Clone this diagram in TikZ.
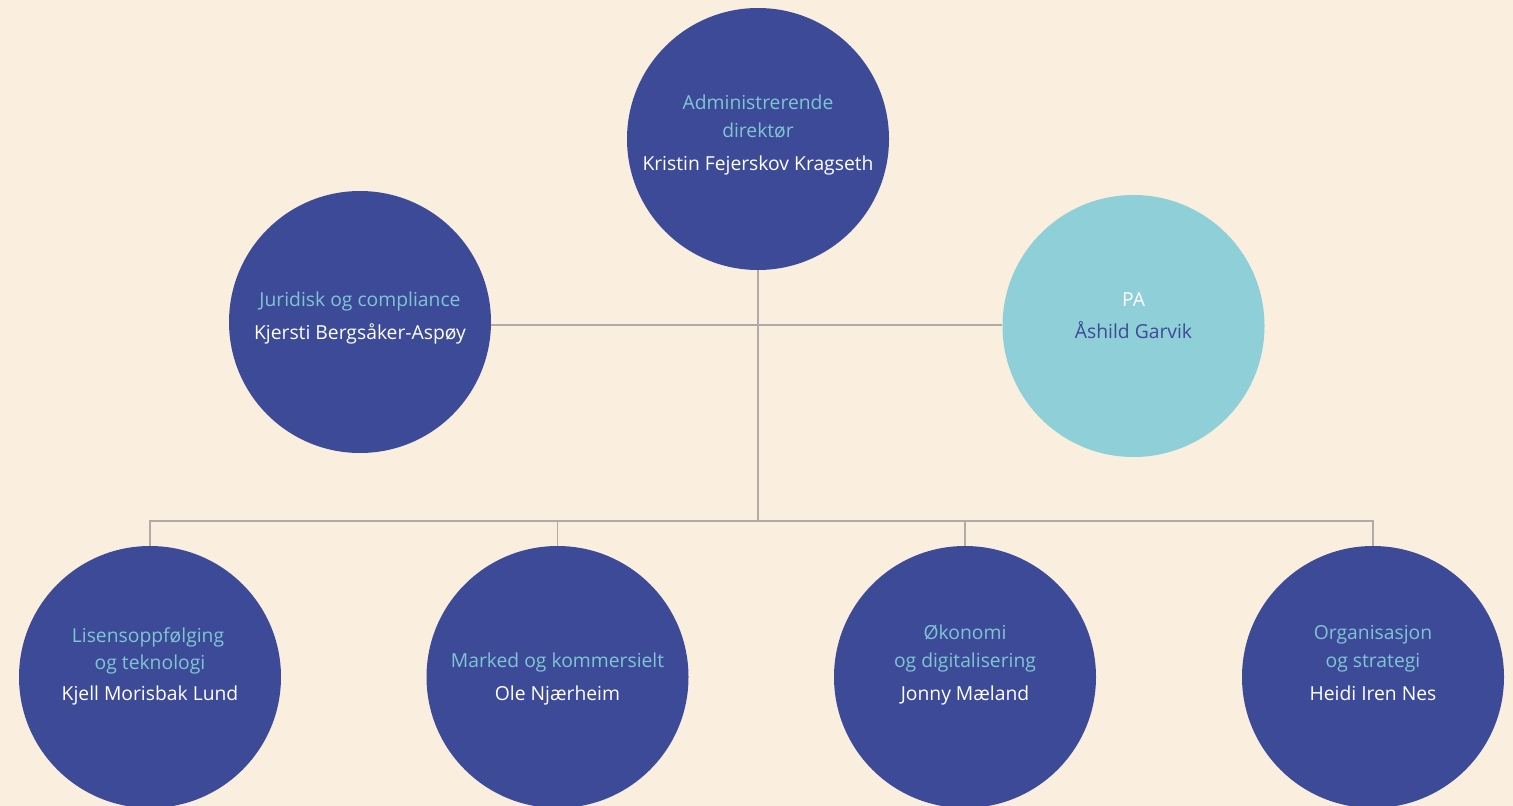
\documentclass[tikz,border=0pt]{standalone}
\usepackage{fontspec}
\setmainfont{Open Sans}
\definecolor{bg}{RGB}{250,238,223}
\definecolor{navy}{RGB}{61,74,152}
\definecolor{aqua}{RGB}{142,207,216}
\definecolor{role}{RGB}{127,198,210}
\definecolor{linegray}{RGB}{176,171,166}
\tikzset{
  unit/.style={circle, fill=navy, draw=none, minimum size=262pt, inner sep=0pt},
  paunit/.style={circle, fill=aqua, draw=none, minimum size=262pt, inner sep=0pt},
  roletxt/.style={text=role, font=\fontsize{19.3}{28}\selectfont, anchor=base, inner sep=0pt},
  nametxt/.style={text=white, font=\fontsize{19.3}{28}\selectfont, anchor=base, inner sep=0pt},
  conn/.style={draw=linegray, line width=1.2pt}
}
\begin{document}
\begin{tikzpicture}[x=1pt,y=-1pt]
\fill[bg] (0,0) rectangle (1513,806);
\useasboundingbox (0,0) rectangle (1513,806);
% circles
\node[unit] (ceo) at (758,139) {};
\node[unit] (jur) at (360,322) {};
\node[paunit] (pa) at (1133.5,326) {};
\node[unit] (lis) at (150,677) {};
\node[unit] (mar) at (557.5,677) {};
\node[unit] (oko) at (965,677) {};
\node[unit] (org) at (1373,677) {};
% connectors
\coordinate (hub) at (758,325);
\coordinate (bus) at (758,521);
\draw[conn] (ceo.south) -- (bus);
\draw[conn] (jur.east |- hub) -- (pa.west |- hub);
\draw[conn] (lis.north) -- (lis.north |- bus) -- (org.north |- bus) -- (org.north);
\draw[conn] (mar.north) -- (mar.north |- bus);
\draw[conn] (oko.north) -- (oko.north |- bus);
% texts
\node[roletxt] (ceoR1) at (758,109) {Administrerende};
\node[roletxt] (ceoR2) at (758,137) {direktør};
\node[nametxt] (ceoN) at (758,170) {Kristin Fejerskov Kragseth};
\node[roletxt] (jurR) at (360,306) {Juridisk og compliance};
\node[nametxt] (jurN) at (360,339) {Kjersti Bergsåker-Aspøy};
\node[nametxt] (paR) at (1133.5,306) {PA};
\node[nametxt, text=navy] (paN) at (1133.5,338) {Åshild Garvik};
\node[roletxt] (lisR1) at (148,642) {Lisensoppfølging};
\node[roletxt] (lisR2) at (150,669) {og teknologi};
\node[nametxt] (lisN) at (150,700) {Kjell Morisbak Lund};
\node[roletxt] (marR) at (557.5,667) {Marked og kommersielt};
\node[nametxt] (marN) at (557.5,700) {Ole Njærheim};
\node[roletxt] (okoR1) at (965,639) {Økonomi};
\node[roletxt] (okoR2) at (965,667) {og digitalisering};
\node[nametxt] (okoN) at (965,700) {Jonny Mæland};
\node[roletxt] (orgR1) at (1373,639) {Organisasjon};
\node[roletxt] (orgR2) at (1373,667) {og strategi};
\node[nametxt] (orgN) at (1373,700) {Heidi Iren Nes};
\end{tikzpicture}
\end{document}
